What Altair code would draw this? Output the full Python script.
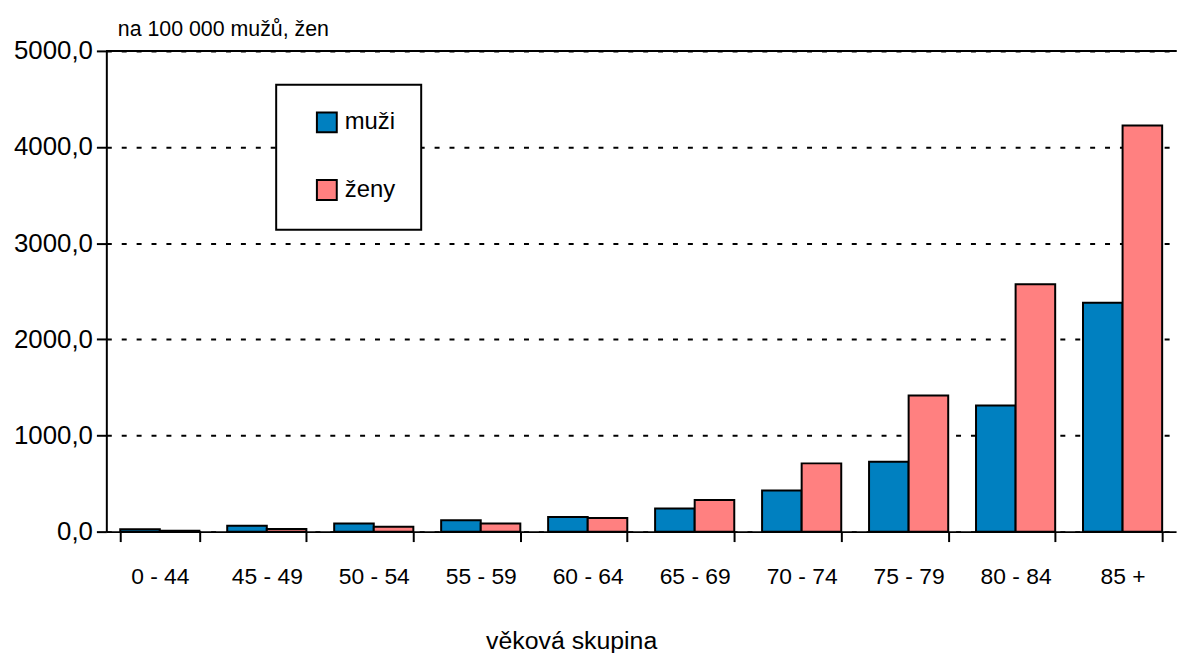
import altair as alt
import pandas as pd

groups = ["0 - 44", "45 - 49", "50 - 54", "55 - 59", "60 - 64",
          "65 - 69", "70 - 74", "75 - 79", "80 - 84", "85 +"]
muzi = [25, 60, 85, 119, 153, 240, 427, 727, 1311, 2381]
zeny = [8, 28, 50, 85, 143, 330, 710, 1415, 2572, 4223]
series = ["muži", "ženy"]
colors = ["#0080C0", "#FF8080"]

rows = []
for g, m, z in zip(groups, muzi, zeny):
    rows.append({"skupina": g, "pohlavi": series[0], "hodnota": m})
    rows.append({"skupina": g, "pohlavi": series[1], "hodnota": z})
df = pd.DataFrame(rows)

FONT = "Liberation Sans"
W, H = 1077, 484

bars = alt.Chart(df).mark_bar(stroke="black", strokeWidth=2).encode(
    x=alt.X("skupina:N", sort=groups,
            scale=alt.Scale(paddingInner=0.26, paddingOuter=0.13),
            axis=alt.Axis(title="věková skupina", titleFont=FONT, titleFontSize=25,
                          titleFontWeight="normal", titleColor="black",
                          titleX=468, titleY=110, titleAnchor="middle", titleBaseline="middle",
                          labelFont=FONT, labelFontSize=23, labelColor="black",
                          labelPadding=24, labelAngle=0,
                          tickBand="extent", tickSize=10, tickWidth=2, tickColor="black",
                          domainColor="black", domainWidth=2, grid=False)),
    xOffset=alt.XOffset("pohlavi:N", sort=series),
    y=alt.Y("hodnota:Q",
            scale=alt.Scale(domain=[0, 5000], nice=False),
            axis=alt.Axis(title="na 100 000 mužů, žen", titleFont=FONT, titleFontSize=21.5,
                          titleFontWeight="normal", titleColor="black", titleAngle=0,
                          titleX=11, titleY=-21, titleAlign="left", titleBaseline="middle",
                          values=[0, 1000, 2000, 3000, 4000, 5000],
                          labelExpr="replace(format(datum.value, '.1f'), '.', ',')",
                          labelFont=FONT, labelFontSize=26, labelColor="black",
                          labelPadding=4,
                          tickSize=10, tickWidth=2, tickColor="black",
                          domainColor="black", domainWidth=2,
                          grid=True, gridColor="black", gridWidth=2, gridDash=[5, 10])),
    color=alt.Color("pohlavi:N", sort=series,
                    scale=alt.Scale(domain=series, range=colors),
                    legend=alt.Legend(title=None, orient="none", legendX=171, legendY=34,
                                      padding=26, strokeColor="black", fillColor="white",
                                      symbolType="square", symbolSize=400,
                                      symbolStrokeColor="black", symbolStrokeWidth=2,
                                      symbolOffset=13, labelOffset=6,
                                      labelFont=FONT, labelFontSize=24, labelColor="black",
                                      rowPadding=40)),
)

top_line = alt.Chart(df).mark_rule(color="black", strokeWidth=2).encode(
    x=alt.value(0), x2=alt.value(W), y=alt.value(0)
)

chart = alt.layer(bars, top_line).properties(
    width=W, height=H,
    autosize=alt.AutoSizeParams(type="none"),
    padding={"left": 99, "top": 41, "right": 10, "bottom": 120},
).configure_view(stroke=None).configure_legend(strokeWidth=2)

chart.save("out.html", embed_options={"renderer": "svg", "actions": False})
